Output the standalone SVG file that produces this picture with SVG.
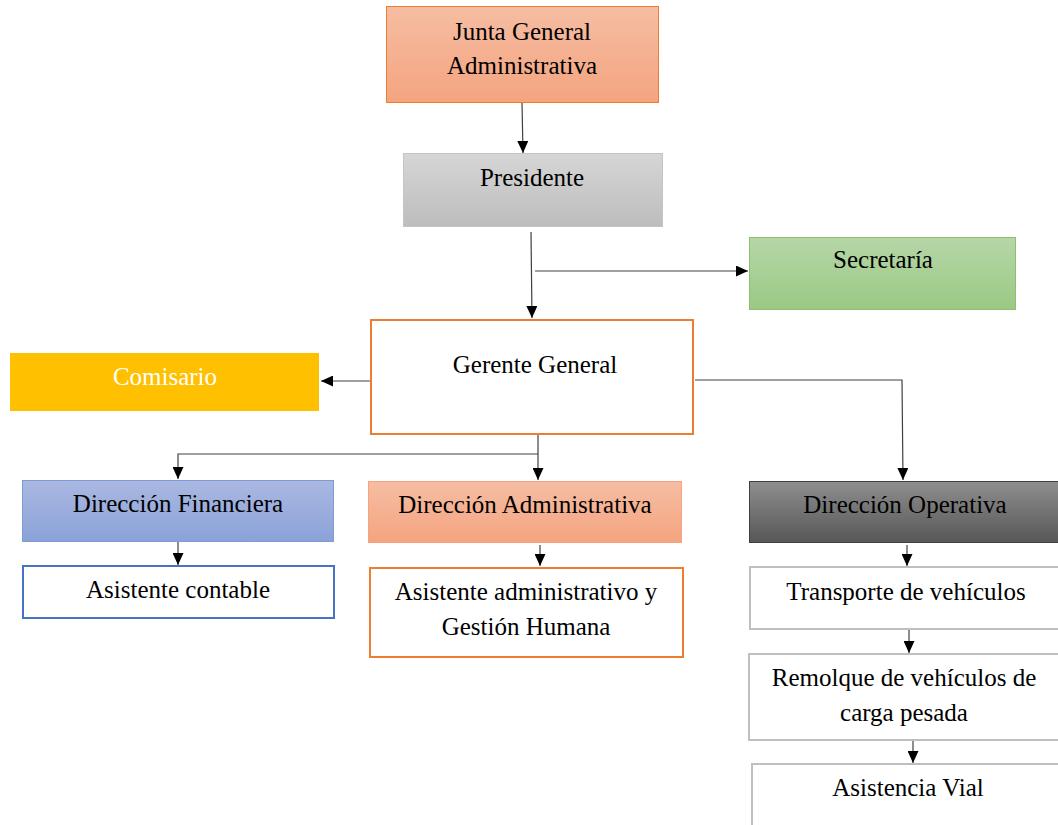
<svg xmlns="http://www.w3.org/2000/svg" width="1058" height="825" viewBox="0 0 1058 825" font-family="Liberation Serif, DejaVu Serif, serif">
<defs>
<linearGradient id="gOrange" x1="0" y1="0" x2="0" y2="1"><stop offset="0" stop-color="#f6bda3"/><stop offset="1" stop-color="#f4a47f"/></linearGradient>
<linearGradient id="gGray" x1="0" y1="0" x2="0" y2="1"><stop offset="0" stop-color="#d6d6d6"/><stop offset="1" stop-color="#bdbdbd"/></linearGradient>
<linearGradient id="gGreen" x1="0" y1="0" x2="0" y2="1"><stop offset="0" stop-color="#b6d6a8"/><stop offset="1" stop-color="#9bc984"/></linearGradient>
<linearGradient id="gBlue" x1="0" y1="0" x2="0" y2="1"><stop offset="0" stop-color="#aab8e2"/><stop offset="1" stop-color="#8ba2d8"/></linearGradient>
<linearGradient id="gDark" x1="0" y1="0" x2="0" y2="1"><stop offset="0" stop-color="#8e8e8e"/><stop offset="1" stop-color="#575757"/></linearGradient>
<marker id="arr" viewBox="0 0 12 11" refX="12" refY="5.5" markerWidth="12" markerHeight="11" markerUnits="userSpaceOnUse" orient="auto"><path d="M0,0 L12,5.5 L0,11 z" fill="#000"/></marker>
</defs>
<style>
text{font-family:'Liberation Serif','DejaVu Serif',serif;font-size:25px;fill:#000;text-anchor:middle}
.c{fill:none;stroke:#404040;stroke-width:1.2;marker-end:url(#arr)}
</style>
<rect width="1058" height="825" fill="#fff"/>
<g id="connectors">
<path class="c" d="M522,103 L523,153"/>
<path class="c" d="M531,232 L532,318"/>
<path class="c" d="M535,271 L748,271"/>
<path class="c" d="M370,381 L321,381"/>
<path class="c" d="M695,380 L902,380 L903,480"/>
<path class="c" d="M538,435 L538,480"/>
<path class="c" d="M538,454 L178,454 L178,479"/>
<path class="c" d="M178,542 L178,565"/>
<path class="c" d="M540,545 L540,566"/>
<path class="c" d="M907,545 L907,566"/>
<path class="c" d="M909,630 L909,653"/>
<path class="c" d="M913,741 L913,763"/>
</g>
<g id="junta"><rect x="386.5" y="6.5" width="272" height="96" fill="url(#gOrange)" stroke="#ed7d31" stroke-width="1"/><text x="522" y="40">Junta General</text><text x="522" y="74">Administrativa</text></g>
<g id="presidente"><rect x="403.5" y="153.5" width="259" height="73" fill="url(#gGray)" stroke="#c4c4c4" stroke-width="1"/><text x="532" y="186">Presidente</text></g>
<g id="secretaria"><rect x="749.5" y="237.5" width="266" height="72" fill="url(#gGreen)" stroke="#8cc06e" stroke-width="1"/><text x="883" y="268">Secretaría</text></g>
<g id="gerente"><rect x="371" y="320" width="322" height="114" fill="#fff" stroke="#ed7d31" stroke-width="2"/><text x="535" y="373">Gerente General</text></g>
<g id="comisario"><rect x="10" y="353" width="309" height="58" fill="#ffc000"/><text x="165" y="385" style="fill:#fff">Comisario</text></g>
<g id="dir-financiera"><rect x="22.5" y="480.5" width="311" height="61" fill="url(#gBlue)" stroke="#7f9bd6" stroke-width="1"/><text x="178" y="512">Dirección Financiera</text></g>
<g id="dir-administrativa"><rect x="368.5" y="481.5" width="313" height="61" fill="url(#gOrange)" stroke="#f4a47f" stroke-width="1"/><text x="525" y="513">Dirección Administrativa</text></g>
<g id="dir-operativa"><rect x="749.5" y="481.5" width="312" height="61" fill="url(#gDark)" stroke="#404040" stroke-width="1"/><text x="905" y="513">Dirección Operativa</text></g>
<g id="asistente-contable"><rect x="23" y="566" width="311" height="52" fill="#fff" stroke="#4472c4" stroke-width="2"/><text x="178" y="598">Asistente contable</text></g>
<g id="asistente-admin"><rect x="370" y="568" width="313" height="89" fill="#fff" stroke="#ed7d31" stroke-width="2"/><text x="526" y="600">Asistente administrativo y</text><text x="526" y="635">Gestión Humana</text></g>
<g id="transporte"><rect x="750" y="567" width="312" height="62" fill="#fff" stroke="#bfbfbf" stroke-width="2"/><text x="906" y="600">Transporte de vehículos</text></g>
<g id="remolque"><rect x="749" y="654" width="313" height="86" fill="#fff" stroke="#bfbfbf" stroke-width="2"/><text x="904" y="686">Remolque de vehículos de</text><text x="904" y="721">carga pesada</text></g>
<g id="asistencia-vial"><rect x="752" y="764" width="310" height="65" fill="#fff" stroke="#bfbfbf" stroke-width="2"/><text x="908" y="796">Asistencia Vial</text></g>
</svg>
